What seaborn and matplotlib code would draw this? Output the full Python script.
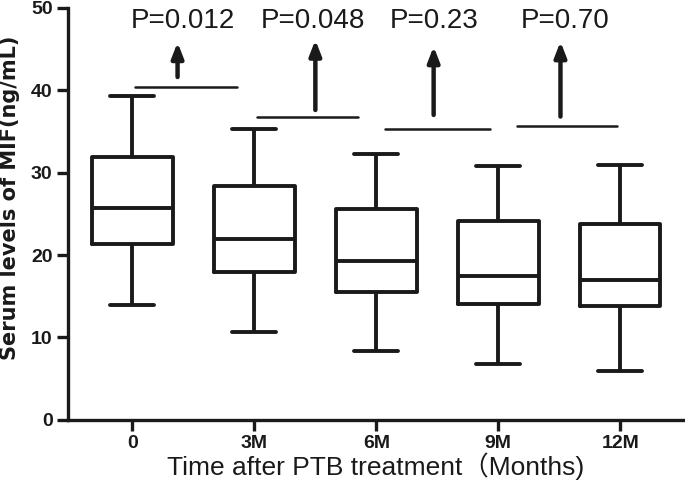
import numpy as np
import pandas as pd
import matplotlib
matplotlib.use("Agg")
import matplotlib.pyplot as plt
import seaborn as sns

# ------------------------------------------------------------------
# Data: five-number summaries (min, Q1, median, Q3, max) per time point
# ------------------------------------------------------------------
groups = ["0", "3M", "6M", "9M", "12M"]
mins = [14.0, 10.7, 8.4, 6.8, 5.9]
q1s = [21.4, 18.0, 15.5, 14.1, 13.8]
medians = [25.7, 22.0, 19.3, 17.4, 17.0]
q3s = [31.9, 28.4, 25.6, 24.1, 23.8]
maxs = [39.3, 35.3, 32.2, 30.8, 30.9]

# comparison annotations between neighbouring groups
p_labels = ["P=0.012", "P=0.048", "P=0.23", "P=0.70"]
bar_heights = [40.4, 36.8, 35.3, 35.7]

rows = []
for g, a, b, c, d, e in zip(groups, mins, q1s, medians, q3s, maxs):
    for v in (a, b, c, d, e):
        rows.append({"time": g, "mif": v})
df = pd.DataFrame(rows)

sns.set_style("ticks")
plt.rcParams["font.family"] = ["Liberation Sans", "Noto Sans CJK SC", "DejaVu Sans"]

fig = plt.figure(figsize=(6.85, 4.86), dpi=100)
ax = fig.add_axes([0.099, 0.136, 0.899, 0.848])

ink = "#1a1a1a"
sns.boxplot(data=df, x="time", y="mif", order=groups, whis=(0, 100),
            fill=False, color=ink, linewidth=2.8, width=0.66,
            capwidths=0.36, ax=ax)

# significance bars + arrows + P values
arrow_x = [0.37, 1.50, 2.47, 3.51]
arrow_lo = [41.6, 37.6, 37.0, 36.8]
arrow_hi = [45.8, 46.1, 45.3, 45.9]
bar_x0 = [0.02, 1.02, 2.07, 3.15]
bar_x1 = [0.86, 1.85, 2.93, 3.97]
text_x = [0.41, 1.48, 2.47, 3.55]
for i, lab in enumerate(p_labels):
    ax.plot([bar_x0[i], bar_x1[i]], [bar_heights[i]] * 2, color=ink, lw=1.8,
            solid_capstyle="round")
    ax.annotate("", xy=(arrow_x[i], arrow_hi[i]), xytext=(arrow_x[i], arrow_lo[i]),
                arrowprops=dict(arrowstyle="-|>,head_width=0.35,head_length=0.9",
                                color=ink, lw=3.2, shrinkA=0, shrinkB=0))
    ax.text(text_x[i], 48.4, lab, ha="center", va="center", fontsize=20,
            color=ink)

ax.set_ylim(0, 50)
ax.set_xlim(-0.53, 4.52)
ax.set_yticks([0, 10, 20, 30, 40, 50])
sns.despine(ax=ax)
for s in ["left", "bottom"]:
    ax.spines[s].set_linewidth(2.4)
    ax.spines[s].set_color(ink)
ax.tick_params(axis="both", width=2.4, length=8, color=ink, pad=3,
               labelsize=14, labelcolor=ink)
for t in ax.get_xticklabels() + ax.get_yticklabels():
    t.set_fontweight("bold")

ax.set_xlabel("Time after PTB treatment（Months)", fontsize=19, color=ink,
              labelpad=0)
ax.set_ylabel("Serum levels of MIF(ng/mL)", fontsize=15, fontweight="bold",
              color=ink, family=["DejaVu Sans"])
ax.yaxis.set_label_coords(-0.077, 0.54)

fig.savefig("out.png", dpi=100)
